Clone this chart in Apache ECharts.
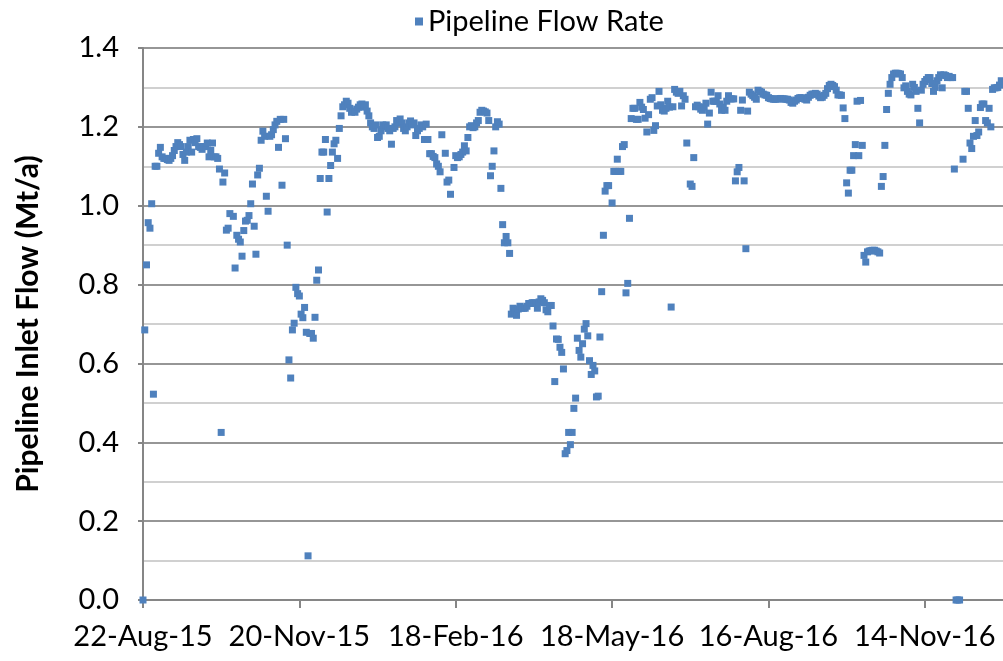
<!DOCTYPE html>
<html>
<head>
<meta charset="utf-8">
<script src="https://cdn.jsdelivr.net/npm/echarts@6/dist/echarts.min.js"></script>
<style>
html,body{margin:0;padding:0;background:#fff;}
#chart{width:1003px;height:661px;}
</style>
</head>
<body>
<div id="chart"></div>
<script>
// First day of the series (day index 0) and daily flow values (Mt/a); null = no reading
var startDate = '2015-08-22';
var seriesName = 'Pipeline Flow Rate';
var yAxisTitle = 'Pipeline Inlet Flow (Mt/a)';
var xTickDays = [0, 90, 180, 270, 360, 450];
var xMaxDay = 495;
var flow = [
  0.0, 0.685, 0.85, 0.957, 0.943, 1.005, 0.522, 1.10, 1.10, 1.133,
  1.148, 1.124, 1.12, 1.12, 1.117, 1.115, 1.12, 1.127, 1.14, 1.15,
  1.16, 1.155, 1.15, 1.13, 1.115, 1.136, 1.15, 1.166, 1.136, 1.168,
  1.16, 1.17, 1.15, 1.148, 1.143, 1.15, 1.15, 1.159, 1.124, 1.14,
  1.159, 1.124, 1.124, 1.12, 1.093, 0.425, 1.06, 1.083, 0.938, 0.943,
  0.98, null, 0.973, 0.842, 0.925, 0.915, 0.908, 0.872, 0.937, 0.961,
  0.963, 0.975, 1.005, 1.055, 0.948, 0.877, 1.078, 1.095, 1.166, 1.189,
  1.176, 1.024, 0.986, 1.176, 1.18, 1.193, 1.205, 1.214, 1.148, 1.219,
  1.052, 1.219, 1.17, 0.90, 0.609, 0.563, 0.685, 0.702, 0.793, 0.777,
  0.771, 0.725, 0.716, 0.742, 0.679, 0.112, 0.676, 0.676, 0.664, 0.717,
  0.811, 0.837, 1.069, 1.136, 1.136, 1.168, 0.984, 1.069, 1.102, 1.136,
  1.157, 1.166, 1.12, 1.196, 1.228, 1.251, 1.256, 1.265, 1.26, 1.247,
  1.237, 1.24, 1.237, 1.245, 1.25, 1.256, 1.258, 1.25, 1.256, 1.24,
  1.228, 1.21, 1.2, 1.196, 1.205, 1.173, 1.176, 1.19, 1.205, 1.2,
  1.205, 1.196, 1.19, 1.156, 1.196, 1.2, 1.216, 1.21, 1.22, 1.21,
  1.196, 1.19, 1.2, 1.21, 1.215, 1.205, 1.21, 1.178, 1.19, 1.196,
  1.205, 1.2, 1.168, 1.207, 1.168, 1.132, 1.132, 1.125, 1.122, 1.106,
  1.1, 1.086, 1.18, null, 1.133, 1.06, 1.065, 1.029, null, 1.097,
  1.127, 1.122, 1.124, 1.13, 1.136, 1.152, 1.139, 1.173, 1.2, 1.203,
  1.198, 1.2, 1.21, 1.216, 1.237, 1.242, 1.24, 1.238, 1.235, 1.216,
  1.076, 1.1, 1.139, 1.2, 1.213, 1.207, 1.044, 0.952, 0.906, 0.922,
  0.906, 0.879, 0.725, 0.74, 0.731, 0.722, 0.738, 0.745, 0.74, 0.74,
  0.74, 0.745, 0.752, 0.752, 0.754, 0.754, 0.752, 0.74, 0.756, 0.764,
  0.76, 0.754, 0.736, 0.731, 0.747, 0.747, 0.695, 0.554, 0.662, 0.661,
  0.641, 0.628, 0.586, 0.371, 0.379, 0.425, 0.394, 0.425, 0.486, 0.512,
  0.664, 0.633, 0.616, 0.65, 0.687, 0.701, 0.67, 0.607, 0.572, 0.595,
  0.581, 0.515, 0.517, 0.667, 0.782, 0.925, 1.037, 1.051, 1.051, null,
  1.007, 1.087, 1.087, 1.118, 1.087, 1.087, 1.15, 1.155, 0.779, 0.803,
  0.968, 1.221, 1.247, 1.247, 1.219, 1.219, 1.262, 1.25, 1.244, 1.222,
  1.187, 1.231, 1.27, 1.274, 1.191, 1.203, 1.253, 1.29, 1.256, 1.242,
  1.24, 1.247, 1.265, 1.25, 0.743, 1.251, 1.295, 1.288, 1.285, 1.29,
  1.253, 1.279, 1.27, 1.159, null, 1.055, 1.049, 1.122, 1.251, 1.255,
  1.251, 1.245, 1.242, 1.25, 1.26, 1.207, 1.235, 1.288, 1.265, 1.265,
  1.265, 1.279, 1.258, 1.242, 1.25, 1.242, 1.265, 1.279, 1.271, 1.271,
  1.271, 1.063, 1.086, 1.097, 1.242, 1.268, 1.063, 0.891, 1.24, 1.288,
  1.283, 1.279, 1.275, 1.27, 1.293, 1.29, 1.288, 1.283, 1.281, 1.28,
  1.274, 1.272, 1.271, 1.27, 1.27, 1.271, 1.271, 1.272, 1.271, 1.271,
  1.27, 1.27, 1.268, 1.262, 1.26, 1.265, 1.268, 1.272, 1.274, 1.274,
  1.272, 1.27, 1.268, 1.275, 1.28, 1.283, 1.283, 1.285, 1.283, 1.278,
  1.274, 1.275, 1.28, 1.285, 1.297, 1.305, 1.308, 1.305, 1.302, 1.293,
  1.281, 1.281, 1.28, 1.248, 1.221, 1.058, 1.032, 1.09, 1.09, 1.127,
  1.155, 1.265, 1.127, 1.267, 1.153, 0.874, 0.857, 0.883, 0.885, 0.886,
  0.887, 0.887, 0.885, 0.883, 0.88, 1.049, 1.074, 1.153, 1.244, 1.285,
  1.308, 1.325, 1.334, 1.336, 1.336, 1.335, 1.334, 1.325, 1.299, 1.304,
  1.29, 1.283, 1.281, 1.308, 1.3, 1.29, 1.247, 1.21, 1.293, 1.308,
  1.315, 1.32, 1.325, 1.325, 1.31, 1.29, 1.3, 1.317, 1.325, 1.332,
  1.299, 1.332, 1.33, 1.325, 1.328, 1.325, 1.325, 1.093, 0.0, 0.0,
  0.0, null, 1.118, 1.29, 1.29, 1.247, 1.159, 1.145, 1.176, 1.216,
  1.178, 1.187, 1.249, 1.258, 1.258, 1.216, 1.21, 1.247, 1.2, 1.295,
  1.299, 1.299, 1.3, 1.306, 1.317
];

var months = ['Jan','Feb','Mar','Apr','May','Jun','Jul','Aug','Sep','Oct','Nov','Dec'];
var t0 = Date.UTC(2015, 7, 22);
function dayLabel(d) {
  var dt = new Date(t0 + Math.round(d) * 86400000);
  var dd = dt.getUTCDate();
  return (dd < 10 ? '0' + dd : dd) + '-' + months[dt.getUTCMonth()] + '-' + String(dt.getUTCFullYear()).slice(2);
}
var points = [];
flow.forEach(function (v, i) { if (v !== null) points.push([i, v]); });

var FONT = 'Lato';
var chart = echarts.init(document.getElementById('chart'), null, {renderer: 'canvas'});
chart.setOption({
  animation: false,
  backgroundColor: '#ffffff',
  textStyle: {fontFamily: FONT},
  legend: {
    data: [seriesName],
    top: 2,
    left: 410,
    icon: 'rect',
    itemWidth: 8,
    itemHeight: 8,
    itemGap: 6,
    textStyle: {fontFamily: FONT, fontSize: 29, color: '#000'}
  },
  grid: {left: 143, right: 0, top: 48, bottom: 61, containLabel: false},
  xAxis: {
    type: 'value',
    min: 0,
    max: xMaxDay,
    interval: 90,
    axisLine: {show: true, lineStyle: {color: '#868686', width: 2}},
    axisTick: {show: true, inside: false, length: 8, lineStyle: {color: '#868686', width: 2}},
    splitLine: {show: false},
    axisLabel: {
      showMaxLabel: false,
      margin: 22,
      fontFamily: FONT,
      fontSize: 29,
      color: '#000',
      formatter: function (v) { return xTickDays.indexOf(v) >= 0 ? dayLabel(v) : ''; }
    }
  },
  yAxis: {
    type: 'value',
    min: 0,
    max: 1.4,
    interval: 0.2,
    name: yAxisTitle,
    nameLocation: 'middle',
    nameGap: 100,
    nameTextStyle: {fontFamily: FONT, fontSize: 30, fontWeight: 'bold', color: '#000'},
    axisLine: {show: true, lineStyle: {color: '#868686', width: 2}},
    axisTick: {show: true, length: 5, lineStyle: {color: '#868686', width: 2}},
    axisLabel: {
      margin: 24,
      fontFamily: FONT,
      fontSize: 29,
      color: '#000',
      formatter: function (v) { return v.toFixed(1); }
    },
    splitLine: {show: true, lineStyle: {color: '#969696', width: 2}},
    minorTick: {show: false, splitNumber: 2},
    minorSplitLine: {show: true, lineStyle: {color: '#d0d0d0', width: 2}}
  },
  series: [{
    name: seriesName,
    type: 'scatter',
    symbol: 'rect',
    symbolSize: 7,
    itemStyle: {color: '#4F81BD', opacity: 1},
    data: points
  }]
});
</script>
</body>
</html>
